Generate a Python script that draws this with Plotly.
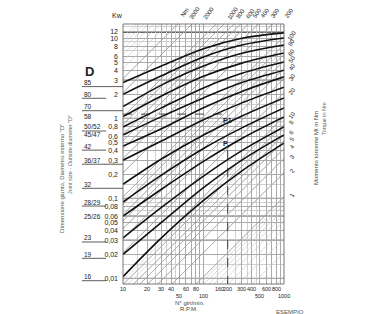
import numpy as np
import plotly.graph_objects as go

# ---------------- data ----------------
rpm_pts = [10, 30, 100, 300, 1000]

kw_d85 = [2.8, 4.5, 7.4, 10.0, 11.7]
kw_d80 = [2.0, 3.4, 5.85, 8.25, 10.1]
kw_d70 = [1.4, 2.6, 4.5, 6.5, 8.25]
kw_d58 = [1.05, 1.9, 3.35, 4.9, 6.55]
kw_d50 = [0.78, 1.35, 2.4, 3.65, 5.05]
kw_d45 = [0.62, 1.05, 1.8, 2.8, 4.0]
kw_d42 = [0.45, 0.74, 1.36, 2.17, 3.3]
kw_d36 = [0.3, 0.52, 0.96, 1.56, 2.45]
kw_d32 = [0.15, 0.31, 0.62, 1.07, 1.8]
kw_d28 = [0.09, 0.195, 0.42, 0.76, 1.35]
kw_d25 = [0.06, 0.13, 0.29, 0.56, 1.04]
kw_d23 = [0.032, 0.077, 0.19, 0.395, 0.78]
kw_d19 = [0.02, 0.05, 0.136, 0.3, 0.62]
kw_d16 = [0.0105, 0.032, 0.094, 0.22, 0.49]
curves = [kw_d85, kw_d80, kw_d70, kw_d58, kw_d50, kw_d45, kw_d42,
          kw_d36, kw_d32, kw_d28, kw_d25, kw_d23, kw_d19, kw_d16]

d_names = ["85", "80", "70", "58", "50/52", "45/47", "42", "36/37", "32",
           "28/29", "25/26", "23", "19", "16"]
d_label_kw = [2.8, 2.0, 1.4, 1.05, 0.78, 0.62, 0.45, 0.3, 0.15, 0.09, 0.06,
              0.032, 0.02, 0.0105]
d_underline = ["long", "short", "long", None, "short", None, "short", "long",
               "long", "short", None, "short", "short", "short"]

y_tick_vals = [12, 10, 8, 6, 5, 4, 3, 2, 1, 0.8, 0.6, 0.5, 0.4, 0.3, 0.2, 0.1,
               0.08, 0.06, 0.05, 0.04, 0.03, 0.02, 0.01]
y_tick_text = ["12", "10", "8", "6", "5", "4", "3", "2", "1", "0,8", "0,6",
               "0,5", "0,4", "0,3", "0,2", "0,1", "0,08", "0,06", "0,05",
               "0,04", "0,03", "0,02", "0,01"]
y_minor_vals = [14, 9, 7, 1.5, 0.9, 0.7, 0.15, 0.09, 0.07, 0.015]

x_grid_vals = [10, 20, 30, 40, 50, 60, 70, 80, 90, 100, 200, 300, 400, 500,
               600, 700, 800, 900, 1000]
x_minor_vals = [15, 25, 35, 45, 150, 250, 350, 450]
x_row1 = [10, 20, 30, 40, 60, 80, 160, 200, 300, 400, 600, 800]
x_row2 = [50, 100, 500, 1000]

torque_hatch = [0.1, 0.2, 0.3, 0.4, 0.5, 0.6, 0.7, 0.8, 0.9,
                1, 2, 3, 4, 5, 6, 7, 8, 9,
                10, 20, 30, 40, 50, 60, 70, 80, 90,
                100, 200, 300, 400, 500, 600, 700, 800, 900,
                1000, 2000, 3000, 4000, 5000, 6000, 7000, 8000, 9000, 10000]
torque_right = [100, 80, 60, 50, 40, 30, 20, 10, 8, 6, 5, 4, 3, 2, 1]
torque_top = [3000, 2000, 1000, 800, 600, 500, 400, 300, 200]
dark_kw_lines = [12, 3, 1, 0.1, 0.06, 0.03, 0.01]

example_rpm = 200
example_p1 = 1.13
example_p = 0.49

FONT = "Liberation Sans, Arial, sans-serif"
TXT = "#222222"

fig = go.Figure()

# torque hatch lines  (P[kW] = M[Nm] * n / 9550)
hx, hy = [], []
for m in torque_hatch:
    hx += [10, 1000, None]
    hy += [m * 10 / 9550, m * 1000 / 9550, None]
fig.add_trace(go.Scatter(x=hx, y=hy, mode="lines",
                         line=dict(color="#c4c4c4", width=0.6),
                         hoverinfo="skip"))
lx, ly = [], []
for m in torque_right + torque_top:
    lx += [10, 1000, None]
    ly += [m * 10 / 9550, m * 1000 / 9550, None]
fig.add_trace(go.Scatter(x=lx, y=ly, mode="lines",
                         line=dict(color="#9a9a9a", width=0.7),
                         hoverinfo="skip"))

# example dashed lines
fig.add_trace(go.Scatter(x=[10, example_rpm], y=[example_p1, example_p1],
                         mode="lines", line=dict(color="#333", width=0.9, dash="dash"),
                         hoverinfo="skip"))
fig.add_trace(go.Scatter(x=[example_rpm, example_rpm], y=[0.4, 0.0085],
                         mode="lines", line=dict(color="#333", width=0.9, dash="dash"),
                         hoverinfo="skip"))

# thick size curves
for kw in curves:
    fig.add_trace(go.Scatter(x=rpm_pts, y=kw, mode="lines",
                             line=dict(color="#111111", width=1.6, shape="spline"),
                             hoverinfo="skip"))

shapes = []
for p in dark_kw_lines:
    shapes.append(dict(type="line", xref="paper", yref="y", x0=0, x1=1, y0=p, y1=p,
                       line=dict(color="#333333", width=1.6 if p == 12 else 0.9),
                       layer="between"))
shapes.append(dict(type="rect", xref="paper", yref="paper", x0=0, x1=1, y0=0, y1=1,
                   line=dict(color="#555555", width=0.8)))
for name, p, ul in zip(d_names, d_label_kw, d_underline):
    if ul is None:
        continue
    shapes.append(dict(type="line", xref="paper", yref="y",
                       x0=-0.255, x1=0 if ul == "long" else -0.105,
                       y0=p * 0.89, y1=p * 0.89,
                       line=dict(color="#333333", width=0.8)))

ann = []


def A(**kw):
    kw.setdefault("showarrow", False)
    kw.setdefault("xanchor", "center")
    kw.setdefault("yanchor", "middle")
    ann.append(kw)


# D labels
A(text="<b>D</b>", xref="paper", yref="y", x=-0.211, y=np.log10(3.8),
  font=dict(size=13, color=TXT, family=FONT))
for name, p in zip(d_names, d_label_kw):
    A(text=name, xref="paper", yref="y", x=-0.255, y=np.log10(p), xanchor="left",
      font=dict(size=6.5, color=TXT, family=FONT))
A(text="Kw", xref="paper", yref="paper", x=-0.037, y=1.031,
  font=dict(size=7, color=TXT, family=FONT))
# x tick rows
for v in x_row1:
    A(text=str(v), xref="x", yref="paper", x=np.log10(v), y=0, yshift=-5,
      font=dict(size=5.5, color=TXT, family=FONT))
for v in x_row2:
    A(text=str(v), xref="x", yref="paper", x=np.log10(v), y=0, yshift=-12,
      font=dict(size=5.5, color=TXT, family=FONT))
# torque labels right
for m in torque_right:
    A(text=str(m), xref="x", yref="y", x=np.log10(1000),
      y=np.log10(m * 1000 / 9550), xshift=8, yshift=2, textangle=-55,
      font=dict(size=6, color=TXT, family=FONT))
# torque labels top
for m in torque_top:
    A(text=str(m), xref="x", yref="y", x=np.log10(15 * 9550 / m),
      y=np.log10(15), xshift=17, yshift=11, textangle=-55,
      font=dict(size=6, color=TXT, family=FONT))
A(text="Nm", xref="paper", yref="paper", x=0.385, y=1.046, textangle=-55,
  font=dict(size=6, color=TXT, family=FONT))
# example labels
A(text="<b>P1</b>", xref="x", yref="y", x=np.log10(196), y=np.log10(0.95),
  font=dict(size=7, color=TXT, family=FONT))
A(text="<b>P</b>", xref="x", yref="y", x=np.log10(190), y=np.log10(0.49),
  font=dict(size=7, color=TXT, family=FONT))
# axis titles
A(text='Dimensione giunto, Diametro esterno "D"', xref="paper", yref="paper",
  x=-0.379, y=0.408, textangle=-90, font=dict(size=6, color="#555", family=FONT))
A(text='Joint size - Outside diameter "D"', xref="paper", yref="paper",
  x=-0.329, y=0.496, textangle=-90, font=dict(size=5.5, color="#666", family=FONT))
A(text="Momento torcente Mt in Nm", xref="paper", yref="paper",
  x=1.199, y=0.523, textangle=-90, font=dict(size=6, color="#444", family=FONT))
A(text="Torque in Nm", xref="paper", yref="paper",
  x=1.248, y=0.638, textangle=-90, font=dict(size=5.5, color="#666", family=FONT))
A(text="N° giri/min.", xref="paper", yref="paper", x=0.416, y=-0.073,
  font=dict(size=6, color="#444", family=FONT))
A(text="R.P.M.", xref="paper", yref="paper", x=0.41, y=-0.096,
  font=dict(size=6, color="#444", family=FONT))
A(text="ESEMPIO", xref="paper", yref="paper", x=1.04, y=-0.108,
  font=dict(size=6, color="#555", family=FONT))

fig.update_layout(
    width=370, height=314,
    margin=dict(l=123, r=86, t=24, b=30),
    paper_bgcolor="white", plot_bgcolor="white",
    showlegend=False,
    shapes=shapes, annotations=ann,
    xaxis=dict(type="log", range=[0.9995, 3.0005], tickvals=x_grid_vals,
               showticklabels=False, ticks="", showgrid=True,
               gridcolor="#a9a9a9", gridwidth=0.6, zeroline=False, showline=False,
               minor=dict(tickvals=x_minor_vals, showgrid=True,
                          gridcolor="#d0d0d0", gridwidth=0.5)),
    yaxis=dict(type="log", range=[np.log10(0.0085), np.log10(15.1)],
               tickvals=y_tick_vals, ticktext=y_tick_text, ticks="",
               ticklabelstandoff=4,
               tickfont=dict(size=7, color=TXT, family=FONT),
               showgrid=True, gridcolor="#a9a9a9", gridwidth=0.6,
               zeroline=False, showline=False,
               minor=dict(tickvals=y_minor_vals, showgrid=True,
                          gridcolor="#d0d0d0", gridwidth=0.5)),
)

fig.write_html("out.html")
